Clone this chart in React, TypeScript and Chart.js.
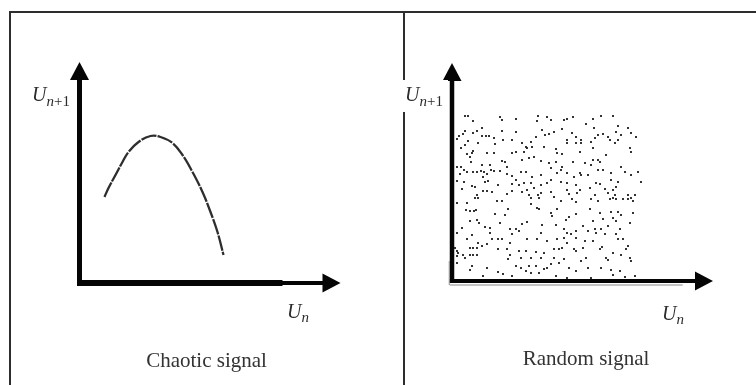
import React, { useEffect, useRef } from "react";
import { Chart, registerables } from "chart.js";

Chart.register(...registerables);

// ---- Data ----
// Chaotic signal: return map U(n) -> U(n+1), axis units
const chaoticUn = [25, 29, 36, 43, 49, 59, 71, 81, 93, 103, 113, 123, 131, 138, 144];
const chaoticUn1 = [86, 95, 108, 121, 131, 141, 147, 146, 140, 128, 111, 91, 71, 51, 28];

// Random signal: scattered pairs [U(n), U(n+1)]
const randomPairs: [number, number][] = [
  [13,165],[16,165],[21,160],[48,164],[50,161],[30,153],[25,150],[13,150],[11,147],[7,145],
  [21,148],[30,145],[34,145],[37,145],[42,143],[50,150],[51,141],[60,141],[5,142],[16,140],
  [43,137],[26,138],[13,136],[9,133],[21,130],[35,128],[42,128],[20,128],[15,127],[60,128],
  [50,120],[53,119],[18,124],[19,119],[30,116],[38,116],[55,114],[5,114],[9,114],[12,111],
  [21,109],[25,109],[29,110],[32,109],[35,107],[39,111],[42,110],[48,110],[55,107],[60,105],
  [15,109],[8,107],[31,104],[5,100],[36,100],[12,99],[20,95],[23,94],[33,99],[60,97],
  [46,96],[10,92],[31,90],[35,90],[40,89],[25,86],[60,90],[55,87],
  [86,165],[95,164],[99,161],[112,161],[115,162],[121,164],[64,162],[85,160],[90,151],[93,146],
  [97,147],[102,149],[110,152],[120,148],[124,144],[115,141],[64,149],[84,144],[79,139],[70,138],
  [74,134],[75,133],[72,129],[80,134],[92,134],[104,132],[105,128],[110,127],[115,138],[124,138],
  [64,129],[77,123],[82,124],[89,120],[70,121],[104,119],[97,118],[121,119],[110,114],[109,111],
  [99,113],[105,108],[115,108],[122,104],[69,109],[74,109],[89,106],[80,104],[99,101],[64,101],
  [72,98],[79,98],[89,96],[95,98],[109,99],[115,98],[124,96],[75,91],[82,93],[70,89],
  [77,86],[86,86],[89,88],[99,89],[115,91],[117,87],[102,84],[125,88],[67,96],
  [149,165],[161,165],[141,162],[134,157],[142,153],[146,146],[151,147],[143,143],[139,139],[129,141],
  [141,133],[129,138],[128,129],[156,144],[158,141],[166,155],[164,149],[169,146],[176,153],[179,148],
  [184,144],[166,141],[163,138],[178,133],[179,129],[154,126],[133,118],[141,121],[146,121],[148,119],
  [139,116],[128,108],[129,106],[136,106],[146,111],[151,111],[159,108],[169,114],[173,109],[186,109],
  [179,106],[159,101],[166,99],[144,98],[148,97],[138,93],[153,92],[161,91],[156,88],[143,86],
  [163,86],[183,86],[176,86],[189,99],[164,94],[128,91],
  [23,83],[26,83],[5,78],[15,78],[14,71],[18,70],[22,70],[24,71],[45,80],[50,80],
  [56,72],[53,66],[43,67],[18,60],[25,61],[27,58],[48,58],[10,53],[33,54],[38,53],
  [58,52],[38,48],[60,47],[20,46],[15,42],[5,48],[26,38],[30,35],[40,42],[46,42],
  [50,42],[35,37],[46,32],[58,38],[55,32],[3,33],[5,30],[6,28],[18,33],[21,33],
  [25,33],[11,26],[13,23],[5,25],[18,26],[21,26],[25,26],[58,26],[56,22],[5,18],
  [20,15],[18,11],[35,13],[46,9],[51,7],[31,5],[60,5],
  [79,83],[87,83],[109,80],[120,82],[124,79],[79,77],[85,73],[87,72],[99,68],[105,72],
  [124,67],[117,64],[114,61],[100,65],[75,59],[70,57],[64,52],[67,50],[90,56],[104,56],
  [112,52],[115,48],[124,50],[119,47],[112,43],[124,43],[105,42],[89,48],[85,42],[95,40],
  [75,42],[115,38],[110,33],[102,32],[107,32],[122,32],[124,30],[67,30],[74,30],[84,29],
  [92,28],[69,23],[79,23],[89,23],[102,23],[112,22],[107,18],[99,17],[64,15],[69,13],
  [77,15],[84,15],[92,12],[95,13],[117,13],[124,10],[74,10],[79,8],[87,8],[104,5],[115,3],
  [139,82],[146,80],[158,82],[161,83],[164,82],[171,82],[176,82],[181,80],[179,83],[138,72],
  [148,68],[159,69],[166,69],[169,66],[161,63],[151,62],[164,60],[181,68],[178,58],[141,60],
  [131,55],[136,50],[143,52],[149,52],[144,48],[156,55],[168,52],[153,47],[164,47],[166,42],
  [171,42],[176,35],[174,32],[141,40],[133,40],[131,33],[148,32],[150,34],[134,23],[154,23],
  [156,21],[161,28],[169,26],[178,23],[179,20],[129,20],[136,13],[149,13],[159,11],[168,10],
  [161,6],[173,4],[183,5],[139,3],
];

const axisLabelY = ["U", "n", "+1"];
const axisLabelX = ["U", "n"];
const captions = ["Chaotic signal", "Random signal"];

const SERIF = '"Liberation Serif", "DejaVu Serif", serif';

const arrowAxesPlugin = {
  id: "arrowAxes",
  beforeDatasetsDraw(chart: any, _args: any, opts: any) {
    const { ctx } = chart;
    const xs = chart.scales.x;
    const ys = chart.scales.y;
    const x0 = xs.getPixelForValue(0);
    const y0 = ys.getPixelForValue(0);
    const xEnd = xs.getPixelForValue(xs.max);
    const yEnd = ys.getPixelForValue(ys.max);
    const head = 18;
    const half = 9.5;
    ctx.save();
    ctx.fillStyle = "#050505";
    const yw = opts.yWidth;
    ctx.fillRect(x0 - yw / 2, yEnd + head - 1, yw, y0 - yEnd - head + 1 + opts.xWidth / 2);
    ctx.beginPath();
    ctx.moveTo(x0, yEnd);
    ctx.lineTo(x0 + half, yEnd + head);
    ctx.lineTo(x0 - half, yEnd + head);
    ctx.closePath();
    ctx.fill();
    const xw = opts.xWidth;
    const thinStart = xEnd - opts.thinLen;
    ctx.fillRect(x0 - yw / 2, y0 - xw / 2, thinStart - (x0 - yw / 2), xw);
    const tw = opts.thinWidth;
    ctx.fillRect(thinStart - 1, y0 - tw / 2, xEnd - head - thinStart + 2, tw);
    ctx.beginPath();
    ctx.moveTo(xEnd, y0);
    ctx.lineTo(xEnd - head, y0 - half);
    ctx.lineTo(xEnd - head, y0 + half);
    ctx.closePath();
    ctx.fill();
    if (opts.doubleLine) {
      ctx.fillStyle = "#8a8a8a";
      ctx.fillRect(x0 - yw / 2, y0 + xw / 2 + 1.5, xEnd - head - 10 - x0, 1);
      ctx.fillRect(x0 - yw / 2 - 1, y0 - 20, 1, 24);
    }
    ctx.restore();
  },
};

const labelsPlugin = {
  id: "panelLabels",
  afterDraw(chart: any, _args: any, opts: any) {
    const { ctx, chartArea } = chart;
    ctx.save();
    if (opts.mask) {
      ctx.fillStyle = "#fff";
      ctx.fillRect(opts.mask[0], opts.mask[1], opts.mask[2], opts.mask[3]);
    }
    ctx.fillStyle = "#2b2b2b";
    ctx.textBaseline = "alphabetic";
    ctx.textAlign = "left";
    let ux = chartArea.left + opts.yLab[0];
    const uy = chartArea.top + opts.yLab[1];
    ctx.font = `italic 20px ${SERIF}`;
    ctx.fillText(axisLabelY[0], ux, uy);
    ux += ctx.measureText(axisLabelY[0]).width;
    ctx.font = `italic 15px ${SERIF}`;
    ctx.fillText(axisLabelY[1], ux, uy + 5);
    ux += ctx.measureText(axisLabelY[1]).width;
    ctx.font = `15px ${SERIF}`;
    ctx.fillText(axisLabelY[2], ux, uy + 5);
    let vx = chartArea.right + opts.xLab[0];
    const vy = chartArea.bottom + opts.xLab[1];
    ctx.font = `italic 20px ${SERIF}`;
    ctx.fillText(axisLabelX[0], vx, vy);
    vx += ctx.measureText(axisLabelX[0]).width;
    ctx.font = `italic 15px ${SERIF}`;
    ctx.fillText(axisLabelX[1], vx, vy + 4);
    ctx.font = `21px ${SERIF}`;
    ctx.textAlign = "center";
    ctx.fillStyle = "#333";
    ctx.fillText(opts.caption, opts.capX, chartArea.bottom + opts.capDy);
    ctx.restore();
  },
};

export default function App() {
  const leftRef = useRef<HTMLCanvasElement | null>(null);
  const rightRef = useRef<HTMLCanvasElement | null>(null);

  useEffect(() => {
    const left = new Chart(leftRef.current as HTMLCanvasElement, {
      type: "line",
      data: {
        datasets: [
          {
            data: chaoticUn.map((x, i) => ({ x, y: chaoticUn1[i] })),
            borderColor: "#2e2e2e",
            borderWidth: 2.3,
            borderDash: [16, 1.2],
            pointRadius: 0,
            tension: 0.4,
            fill: false,
          },
        ],
      },
      options: {
        animation: false,
        responsive: false,
        events: [],
        layout: { padding: { left: 79.5, top: 62, right: 59.5, bottom: 102 } },
        scales: {
          x: { type: "linear", min: 0, max: 261, display: false },
          y: { type: "linear", min: 0, max: 221, display: false },
        },
        plugins: {
          legend: { display: false },
          tooltip: { enabled: false },
          arrowAxes: { yWidth: 5, xWidth: 6, thinWidth: 4, thinLen: 58, doubleLine: false },
          panelLabels: {
            yLab: [-47.5, 39],
            xLab: [-53.5, 35],
            caption: captions[0],
            capX: 206.5,
            capDy: 84,
          },
        } as any,
      },
      plugins: [arrowAxesPlugin, labelsPlugin],
    });

    const right = new Chart(rightRef.current as HTMLCanvasElement, {
      type: "scatter",
      data: {
        datasets: [
          {
            data: randomPairs.map(([x, y]) => ({ x, y })),
            backgroundColor: "#222",
            borderWidth: 0,
            pointStyle: "rect",
            pointRadius: 1.3,
          },
        ],
      },
      options: {
        animation: false,
        responsive: false,
        events: [],
        layout: { padding: { left: 52, top: 63, right: 43, bottom: 104 } },
        scales: {
          x: { type: "linear", min: 0, max: 261, display: false },
          y: { type: "linear", min: 0, max: 218, display: false },
        },
        plugins: {
          legend: { display: false },
          tooltip: { enabled: false },
          arrowAxes: { yWidth: 4.5, xWidth: 4, thinWidth: 4, thinLen: 40, doubleLine: true },
          panelLabels: {
            mask: [0, 80, 48, 32],
            yLab: [-47, 38],
            xLab: [-51, 39],
            caption: captions[1],
            capX: 186,
            capDy: 84,
          },
        } as any,
      },
      plugins: [arrowAxesPlugin, labelsPlugin],
    });

    return () => {
      left.destroy();
      right.destroy();
    };
  }, []);

  return (
    <div
      style={{
        position: "absolute",
        left: 0,
        top: 0,
        width: 756,
        height: 385,
        background: "#fff",
        overflow: "hidden",
      }}
    >
      <div
        style={{
          position: "absolute",
          left: 9,
          top: 11,
          width: 760,
          height: 380,
          borderTop: "2px solid #2e2e2e",
          borderLeft: "2px solid #2e2e2e",
        }}
      />
      <div
        style={{
          position: "absolute",
          left: 403,
          top: 11,
          width: 2,
          height: 380,
          background: "#2e2e2e",
        }}
      />
      <canvas
        ref={leftRef}
        width={400}
        height={385}
        style={{ position: "absolute", left: 0, top: 0, width: 400, height: 385 }}
      />
      <canvas
        ref={rightRef}
        width={356}
        height={385}
        style={{ position: "absolute", left: 400, top: 0, width: 356, height: 385 }}
      />
    </div>
  );
}
